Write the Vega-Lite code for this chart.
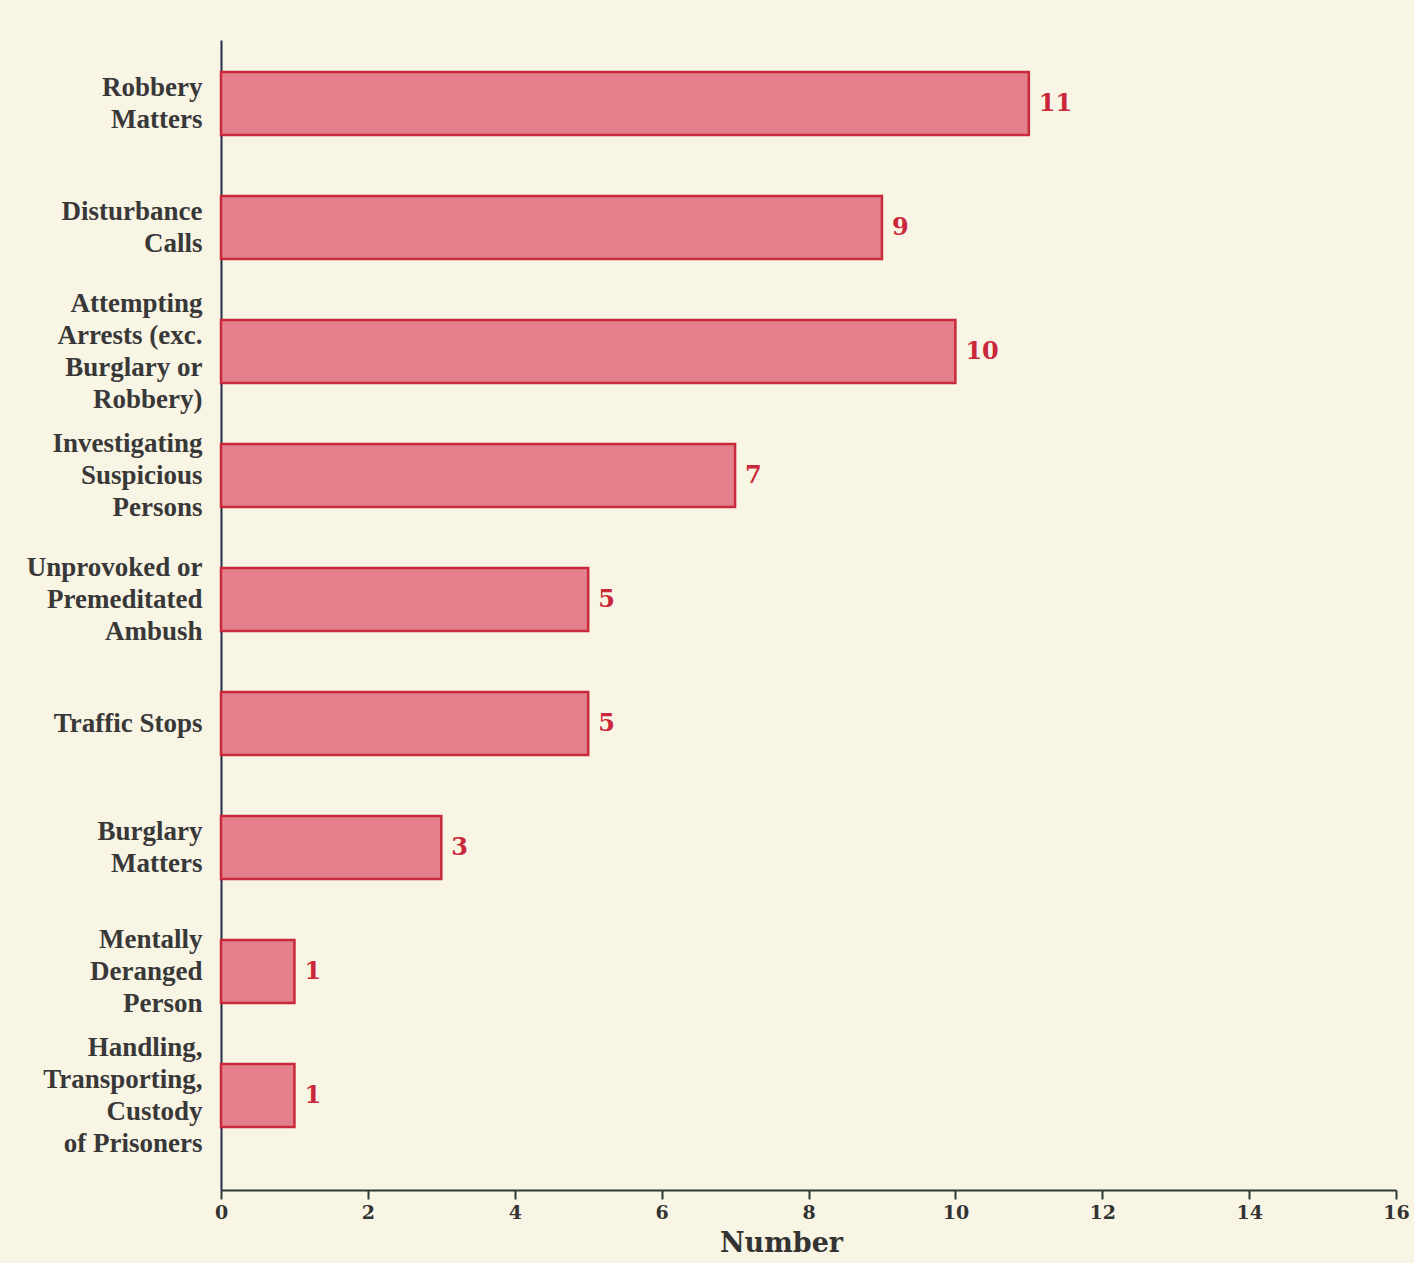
{
  "$schema": "https://vega.github.io/schema/vega-lite/v6.json",
  "width": 1175,
  "height": 1150,
  "autosize": "none",
  "padding": {"left": 221, "top": 40, "right": 18, "bottom": 73},
  "background": "#f8f5e5",
  "config": {"view": {"stroke": null}},
  "data": {
    "values": [
      {"category": "Robbery|Matters", "number": 11},
      {"category": "Disturbance|Calls", "number": 9},
      {"category": "Attempting|Arrests (exc.|Burglary or|Robbery)", "number": 10},
      {"category": "Investigating|Suspicious|Persons", "number": 7},
      {"category": "Unprovoked or|Premeditated|Ambush", "number": 5},
      {"category": "Traffic Stops", "number": 5},
      {"category": "Burglary|Matters", "number": 3},
      {"category": "Mentally|Deranged|Person", "number": 1},
      {"category": "Handling,|Transporting,|Custody|of Prisoners", "number": 1}
    ]
  },
  "encoding": {
    "y": {
      "field": "category",
      "type": "nominal",
      "sort": null,
      "scale": {"paddingInner": 0.492, "paddingOuter": 0.383, "align": 0.337},
      "axis": {
        "title": null,
        "ticks": false,
        "labelExpr": "split(datum.label, '|')",
        "labelOffset": {"expr": "-16 * (length(split(datum.label, '|')) - 1)"},
        "labelFont": "Liberation Serif",
        "labelFontWeight": "bold",
        "labelFontSize": 27,
        "labelLineHeight": 32,
        "labelColor": "#383838",
        "labelPadding": 19,
        "labelLimit": 300,
        "domainColor": "#1f2d45",
        "domainWidth": 2
      }
    },
    "x": {
      "field": "number",
      "type": "quantitative",
      "scale": {"domain": [0, 16], "nice": false},
      "axis": {
        "values": [0, 2, 4, 6, 8, 10, 12, 14, 16],
        "grid": false,
        "labelFlush": false,
        "title": "Number",
        "titleFont": "DejaVu Serif",
        "titleFontSize": 27,
        "titleFontWeight": "bold",
        "titleColor": "#333333",
        "titlePadding": 8,
        "titleX": 560,
        "labelFont": "DejaVu Serif",
        "labelFontWeight": "bold",
        "labelFontSize": 19,
        "labelColor": "#333333",
        "labelPadding": 4,
        "tickColor": "#2b3a36",
        "tickSize": 9,
        "tickWidth": 2,
        "domainColor": "#2b3a36",
        "domainWidth": 2
      }
    }
  },
  "layer": [
    {
      "mark": {"type": "bar", "fill": "#e3808c", "stroke": "#c82a3c", "strokeWidth": 2.5}
    },
    {
      "mark": {
        "type": "text",
        "align": "left",
        "baseline": "middle",
        "dx": 10,
        "font": "DejaVu Serif",
        "fontWeight": "bold",
        "fontSize": 24,
        "color": "#c8283a"
      },
      "encoding": {"text": {"field": "number", "type": "quantitative"}}
    }
  ]
}
